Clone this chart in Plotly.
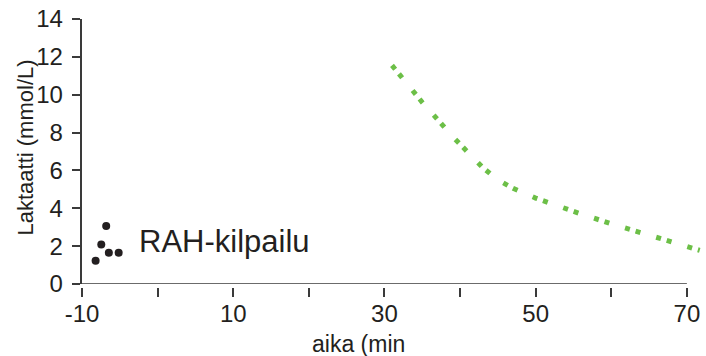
import plotly.graph_objects as go

# Data
race_x = [-8.2, -7.45, -6.8, -6.45, -5.15]
race_y = [1.23, 2.09, 3.07, 1.65, 1.65]

curve_x = [31, 35, 39, 43, 45, 47, 50, 53, 56, 60, 64, 68, 71.7]
curve_y = [11.55, 9.6, 7.8, 6.15, 5.5, 5.06, 4.54, 4.11, 3.7, 3.18, 2.68, 2.2, 1.78]

x_ticks = [-10, 0, 10, 20, 30, 40, 50, 60, 70]
x_ticktext = ["-10", "", "10", "", "30", "", "50", "", "70"]
y_ticks = [0, 2, 4, 6, 8, 10, 12, 14]

ink = "#231f20"
axis_col = "#3a3a3a"
font_family = "Liberation Sans, Arial, sans-serif"

W, H = 706, 356
ml, mr, mt, mb = 82, 4, 19, 69
pw, ph = W - ml - mr, H - mt - mb
gap = 3 / ph

fig = go.Figure()
fig.add_trace(go.Scatter(
    x=curve_x, y=curve_y, mode="lines",
    line=dict(color="#6cbf47", width=5, dash="5px,6px,5px,16.5px"),
    hoverinfo="skip", showlegend=False, cliponaxis=False,
))
fig.add_trace(go.Scatter(
    x=race_x, y=race_y, mode="markers",
    marker=dict(color=ink, size=8),
    showlegend=False, cliponaxis=False,
))

# x axis line only over [-10, 70]
fig.add_shape(type="line", xref="x", yref="y", x0=x_ticks[0], x1=x_ticks[-1], y0=0, y1=0,
              line=dict(color=axis_col, width=1.5))

fig.add_annotation(x=-2.7, y=2.27, xref="x", yref="y", text="RAH-kilpailu",
                   showarrow=False, xanchor="left", yanchor="middle",
                   font=dict(size=31, color=ink, family=font_family))
fig.add_annotation(x=(358 - ml) / pw, y=(H - 344 - mb) / ph, xref="paper", yref="paper",
                   text="aika (min", showarrow=False, xanchor="center", yanchor="middle",
                   font=dict(size=23, color=ink, family=font_family))
fig.add_annotation(x=(25 - ml) / pw, y=(H - 147.5 - mb) / ph, xref="paper", yref="paper",
                   text="Laktaatti (mmol/L)", textangle=-90,
                   showarrow=False, xanchor="center", yanchor="middle",
                   font=dict(size=22, color=ink, family=font_family))

fig.update_layout(
    width=W, height=H,
    margin=dict(l=ml, r=mr, t=mt, b=mb, pad=0),
    paper_bgcolor="white", plot_bgcolor="white",
    font=dict(family=font_family, color=ink),
    xaxis=dict(range=[-10, 72], tickvals=x_ticks, ticktext=x_ticktext,
               ticks="outside", ticklen=9, tickwidth=1.5, tickcolor=axis_col,
               showline=False, showgrid=False, zeroline=False,
               anchor="free", position=0, automargin=False,
               tickfont=dict(size=24, color=ink), ticklabelstandoff=-4),
    yaxis=dict(range=[0, 14], tickvals=y_ticks, domain=[gap, 1],
               ticks="outside", ticklen=8.5, tickwidth=1.5, tickcolor=axis_col,
               showline=True, linecolor=axis_col, linewidth=1.5,
               showgrid=False, zeroline=False, automargin=False,
               tickfont=dict(size=24, color=ink), ticklabelstandoff=4),
)

fig.write_html("out.html", config={"displayModeBar": False},
               post_script="document.body.style.margin='0';")
